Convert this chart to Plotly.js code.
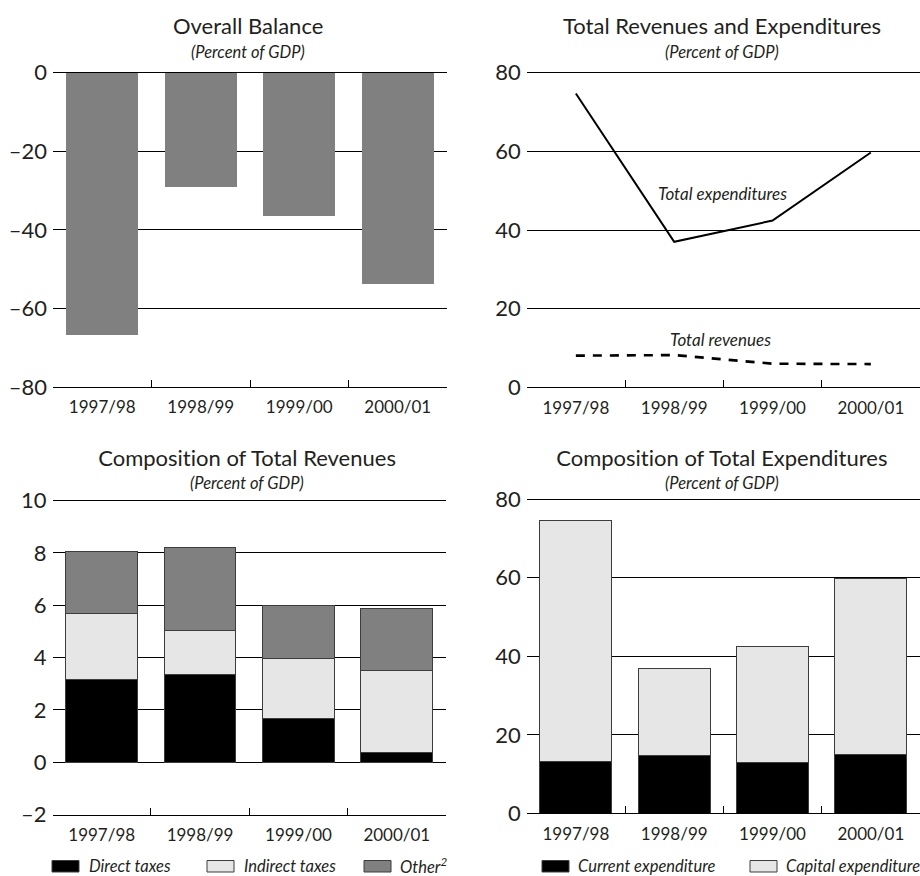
<!DOCTYPE html>
<html>
<head>
<meta charset="utf-8">
<script src="https://cdn.plot.ly/plotly-3.0.1.min.js"></script>
<style>
  html, body { margin: 0; padding: 0; background: #fff; }
  #chart { width: 920px; height: 876px; }
  #chart text { font-variant-ligatures: none; font-feature-settings: "liga" 0, "clig" 0; }
</style>
</head>
<body>
<div id="chart"></div>
<script>
// Fiscal years shown on every panel
const years = ['1997/98', '1998/99', '1999/00', '2000/01'];

// Overall balance (percent of GDP)
const overallBalance = [-66.8, -29.0, -36.6, -53.9];

// Total revenues and expenditures (percent of GDP)
const totalExpenditures = [74.7, 37.0, 42.4, 59.7];
const totalRevenues = [8.05, 8.2, 6.0, 5.9];

// Composition of total revenues (percent of GDP)
const directTaxes = [3.15, 3.37, 1.66, 0.36];
const indirectTaxes = [2.55, 1.66, 2.29, 3.13];
const otherRevenue = [2.35, 3.18, 2.03, 2.40];

// Composition of total expenditures (percent of GDP)
const currentExpenditure = [13.1, 14.6, 13.0, 15.1];
const capitalExpenditure = [61.6, 22.4, 29.4, 44.6];

// Tick values and labels for the value axes
const balanceTicks = [-80, -60, -40, -20, 0];
const balanceTickText = ['–80', '–60', '–40', '–20', '0'];
const pctTicks = [0, 20, 40, 60, 80];
const pctTickText = ['0', '20', '40', '60', '80'];
const revTicks = [-2, 0, 2, 4, 6, 8, 10];
const revTickText = ['–2', '0', '2', '4', '6', '8', '10'];

const FONT = 'Lato, "Open Sans", sans-serif';
const INK = '#231f20';
const BLACK = '#000000';
const LIGHT = '#e6e6e6';
const GRAY = '#808080';
const EDGE = '#3c3c3c';
const W = 920, H = 876;
const px = v => v / W;
const py = v => 1 - v / H;

const traces = [
  // Overall balance
  { type: 'bar', x: years, y: overallBalance, xaxis: 'x', yaxis: 'y',
    marker: { color: GRAY, line: { width: 0 } }, name: 'Overall balance' },

  // Total expenditures / revenues
  { type: 'scatter', mode: 'lines', x: years, y: totalExpenditures, xaxis: 'x2', yaxis: 'y2',
    line: { color: BLACK, width: 2 }, name: 'Total expenditures' },
  { type: 'scatter', mode: 'lines', x: years, y: totalRevenues, xaxis: 'x2', yaxis: 'y2',
    line: { color: BLACK, width: 2.6, dash: '9px,8px' }, name: 'Total revenues' },

  // Composition of revenues
  { type: 'bar', x: years, y: directTaxes, xaxis: 'x3', yaxis: 'y3', name: 'Direct taxes',
    marker: { color: BLACK, line: { color: EDGE, width: 1 } } },
  { type: 'bar', x: years, y: indirectTaxes, xaxis: 'x3', yaxis: 'y3', name: 'Indirect taxes',
    marker: { color: LIGHT, line: { color: EDGE, width: 1 } } },
  { type: 'bar', x: years, y: otherRevenue, xaxis: 'x3', yaxis: 'y3', name: 'Other',
    marker: { color: GRAY, line: { color: EDGE, width: 1 } } },

  // Composition of expenditures
  { type: 'bar', x: years, y: currentExpenditure, xaxis: 'x4', yaxis: 'y4', name: 'Current expenditure',
    marker: { color: BLACK, line: { color: EDGE, width: 1 } } },
  { type: 'bar', x: years, y: capitalExpenditure, xaxis: 'x4', yaxis: 'y4', name: 'Capital expenditure',
    marker: { color: LIGHT, line: { color: EDGE, width: 1 } } }
];

function catAxis(domain, anchor) {
  return {
    domain: domain, anchor: anchor, type: 'category', range: [-0.5, 3.5],
    tickson: 'boundaries', ticks: 'inside', ticklen: 7, tickwidth: 1, tickcolor: BLACK,
    showline: true, linecolor: BLACK, linewidth: 1, showgrid: false, zeroline: false,
    tickfont: { family: FONT, size: 17, color: INK }, ticklabelstandoff: 5, fixedrange: true
  };
}
// The top of each value range is padded a little so the top grid line is kept
function valAxis(domain, anchor, range, vals, text) {
  return {
    domain: domain, anchor: anchor, range: range, tickvals: vals, ticktext: text,
    ticks: '', showline: false, showgrid: true, gridcolor: BLACK, gridwidth: 1,
    zeroline: true, zerolinecolor: BLACK, zerolinewidth: 1,
    tickfont: { family: FONT, size: 22, color: INK }, ticklabelstandoff: 5, fixedrange: true
  };
}

const titleFont = { family: FONT, size: 22, color: INK };
const subFont = { family: FONT, size: 16.5, color: INK, style: 'italic' };
const noteFont = { family: FONT, size: 17, color: INK, style: 'italic' };
const keyFont = { family: FONT, size: 16.5, color: INK, style: 'italic' };

function label(x, y, text, font, anchor) {
  return { xref: 'paper', yref: 'paper', x: x, y: y, text: text, showarrow: false,
    font: font, xanchor: anchor || 'center', yanchor: 'middle' };
}

const annotations = [
  label(px(248), py(26), 'Overall Balance', titleFont),
  label(px(248), py(52), '<i>(Percent of GDP)</i>', subFont),
  label(px(722), py(26), 'Total Revenues and Expenditures', titleFont),
  label(px(722), py(52), '<i>(Percent of GDP)</i>', subFont),
  label(px(247), py(457), 'Composition of Total Revenues', titleFont),
  label(px(247), py(483), '<i>(Percent of GDP)</i>', subFont),
  label(px(722), py(457), 'Composition of Total Expenditures', titleFont),
  label(px(722), py(483), '<i>(Percent of GDP)</i>', subFont),
  label(px(722), py(193), '<i>Total expenditures</i>', noteFont),
  label(px(720), py(339), '<i>Total revenues</i>', noteFont),
  // legend texts
  label(px(87), py(866), '<i>Direct taxes</i>', keyFont, 'left'),
  label(px(242), py(866), '<i>Indirect taxes</i>', keyFont, 'left'),
  label(px(398), py(866), '<i>Other<sup>2</sup></i>', keyFont, 'left'),
  label(px(576), py(866), '<i>Current expenditure</i>', keyFont, 'left'),
  label(px(784), py(866), '<i>Capital expenditure</i>', keyFont, 'left')
];

function swatch(x0, color) {
  return { type: 'rect', xref: 'paper', yref: 'paper', x0: px(x0), x1: px(x0 + 27),
    y0: py(872), y1: py(860.5), fillcolor: color, line: { color: EDGE, width: 1 } };
}
const shapes = [
  swatch(52, BLACK), swatch(207, LIGHT), swatch(364, GRAY),
  swatch(542, BLACK), swatch(750, LIGHT)
];

// 20 units = 78.65 px on the percent panels; 1 unit = 26.2 px on the revenue panel
const layout = {
  width: W, height: H,
  margin: { l: 0, r: 0, t: 0, b: 0 },
  paper_bgcolor: '#ffffff', plot_bgcolor: 'rgba(0,0,0,0)',
  showlegend: false, barmode: 'stack', bargap: 0.27,
  font: { family: FONT, color: INK },
  xaxis: catAxis([px(53), px(447)], 'y'),
  yaxis: valAxis([py(387), py(70.73)], 'x', [-80, 0.5], balanceTicks, balanceTickText),
  xaxis2: catAxis([px(526.7), 1], 'y2'),
  yaxis2: valAxis([py(387.3), py(70.73)], 'x2', [0, 80.5], pctTicks, pctTickText),
  xaxis3: catAxis([px(52.5), px(446)], 'y3'),
  yaxis3: valAxis([py(814.5), py(498.6)], 'x3', [-2, 10.08], revTicks, revTickText),
  xaxis4: catAxis([px(526.7), 1], 'y4'),
  yaxis4: valAxis([py(813.3), py(497.33)], 'x4', [0, 80.5], pctTicks, pctTickText),
  annotations: annotations,
  shapes: shapes
};

Plotly.newPlot('chart', traces, layout, { displayModeBar: false, staticPlot: true });
</script>
</body>
</html>
